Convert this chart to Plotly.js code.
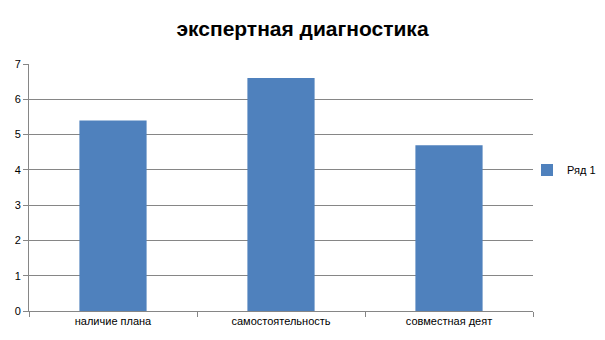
<!DOCTYPE html>
<html><head><meta charset="utf-8">
<script src="https://cdn.plot.ly/plotly-3.0.1.min.js"></script>
<style>body{margin:0;padding:0;background:#fff}#chart{width:605px;height:340px}</style>
</head><body><div id="chart"></div>
<script>
const categories = ["наличие плана", "самостоятельность", "совместная деят"];
const values = [5.4, 6.6, 4.7];
const seriesName = "Ряд 1";
const yTicks = [0, 1, 2, 3, 4, 5, 6, 7];

const trace = {
  type: "bar", x: categories, y: values, name: seriesName,
  marker: {color: "#4f81bd"}, showlegend: true
};
const layout = {
  width: 605, height: 340,
  margin: {l: 29, r: 72, t: 64, b: 29, autoexpand: false},
  paper_bgcolor: "#fff", plot_bgcolor: "#fff",
  font: {family: "Liberation Sans, Arial, sans-serif", size: 11, color: "#000"},
  title: {text: "экспертная диагностика", x: 0.5, xanchor: "center", y: 0.915, yanchor: "middle",
          font: {family: "Liberation Sans, Arial, sans-serif", size: 21, color: "#000", weight: "bold"}},
  bargap: 0.6,
  xaxis: {showline: true, linecolor: "#868686", linewidth: 1, ticks: "outside", tickson: "boundaries",
          ticklen: 5, tickcolor: "#868686", showgrid: false, tickfont: {size: 11}},
  yaxis: {range: [0, 7], tickvals: yTicks, showline: true, linecolor: "#868686", linewidth: 1,
          ticks: "outside", ticklen: 5, tickcolor: "#868686", gridcolor: "#868686", gridwidth: 1,
          zeroline: false, tickfont: {size: 11}},
  legend: {xref: "container", yref: "container", x: 527/605, xanchor: "left", y: 1 - 170/340, yanchor: "middle",
           font: {size: 11}, bgcolor: "rgba(0,0,0,0)", itemwidth: 30}
};
Plotly.newPlot("chart", [trace], layout, {displayModeBar: false});
</script></body></html>
